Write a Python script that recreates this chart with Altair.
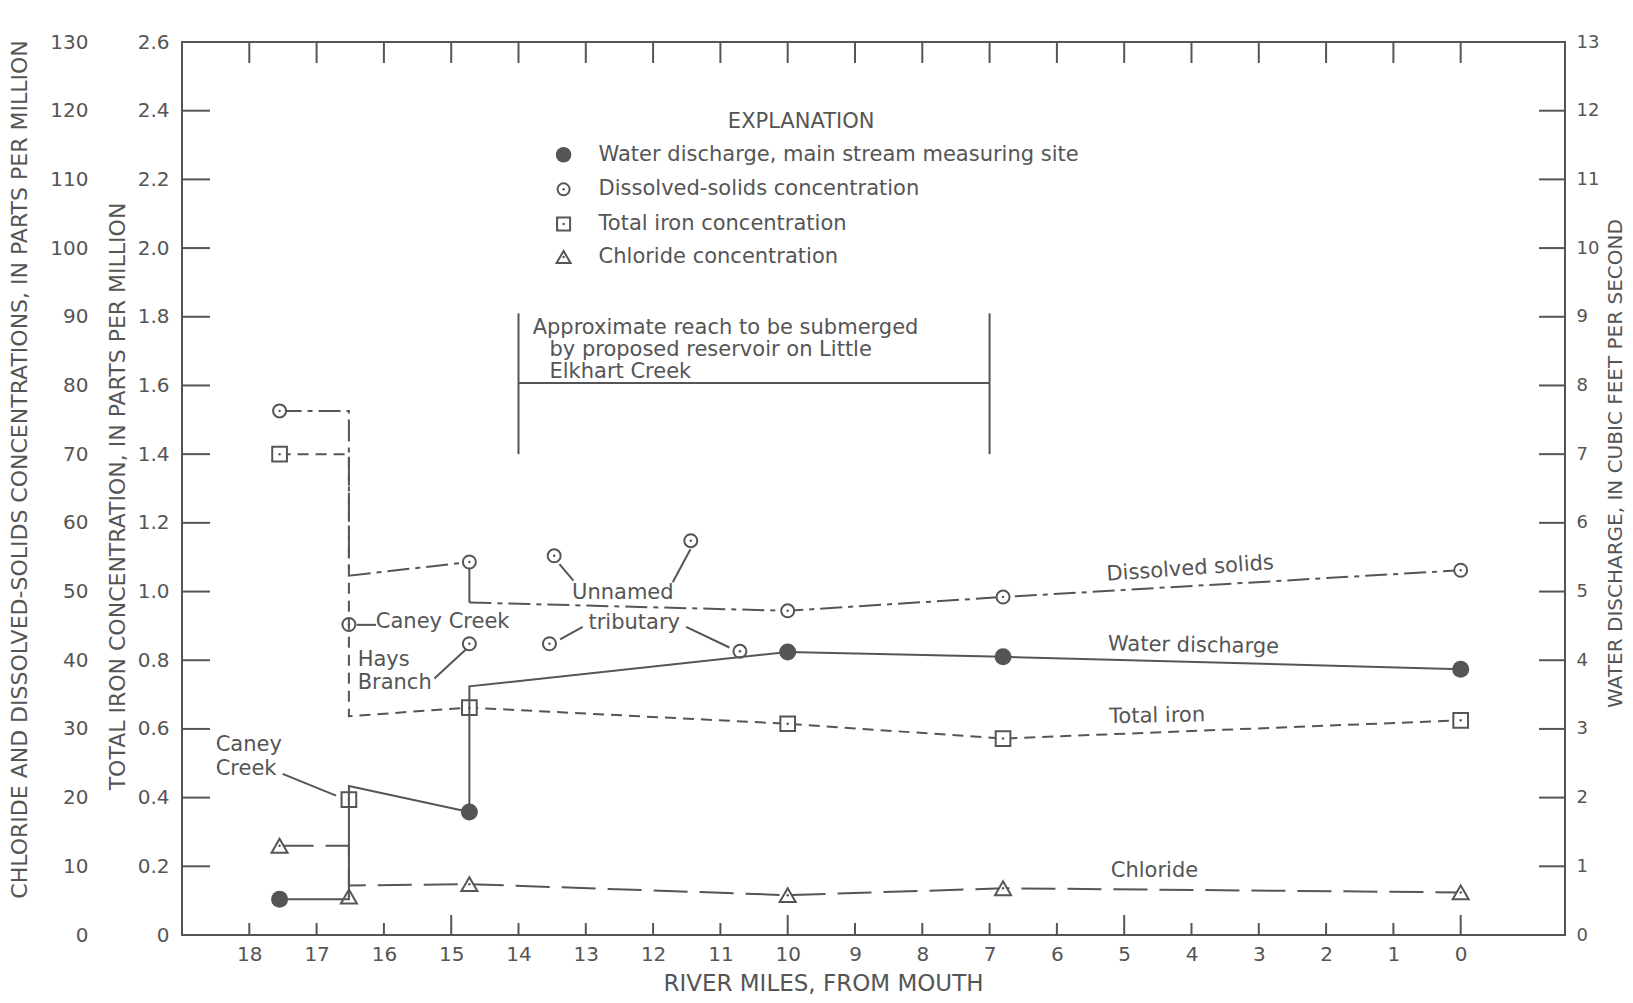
import altair as alt
import pandas as pd

INK = "#555555"
FONT = "DejaVu Sans"

# ---------------- data ----------------
# Water discharge (cfs) along the main stream, with steps at confluences
wd_miles = [17.55, 16.52, 16.52, 14.73, 14.73, 10.0, 6.8, 0.0]
wd_cfs = [0.52, 0.52, 2.17, 1.79, 3.62, 4.12, 4.05, 3.87]
wd_site_miles = [17.55, 14.73, 10.0, 6.8, 0.0]
wd_site_cfs = [0.52, 1.79, 4.12, 4.05, 3.87]

# Dissolved solids (ppm)
ds_miles = [17.55, 16.52, 16.52, 14.73, 14.73, 10.0, 6.8, 0.0]
ds_ppm = [76.3, 76.3, 52.3, 54.3, 48.4, 47.2, 49.2, 53.1]
ds_styles = ["dashdot", "dashdot", "dashdot", "solid", "dashdot", "dashdot", "dashdot"]
ds_site_miles = [17.55, 14.73, 10.0, 6.8, 0.0]
ds_site_ppm = [76.3, 54.3, 47.2, 49.2, 53.1]
ds_trib_miles = [16.52, 14.73, 13.47, 11.44, 13.54, 10.71]
ds_trib_ppm = [45.2, 42.4, 55.2, 57.4, 42.4, 41.3]

# Total iron (ppm)
fe_miles = [17.55, 16.52, 16.52, 14.73, 10.0, 6.8, 0.0]
fe_ppm = [1.40, 1.40, 0.637, 0.662, 0.615, 0.572, 0.625]
fe_site_miles = [17.55, 14.73, 10.0, 6.8, 0.0]
fe_site_ppm = [1.40, 0.662, 0.615, 0.572, 0.625]
fe_trib_miles = [16.52]
fe_trib_ppm = [0.394]

# Chloride (ppm)
cl_miles = [17.55, 16.52, 16.52, 14.73, 10.0, 6.8, 0.0]
cl_ppm = [13.0, 13.0, 7.2, 7.4, 5.8, 6.8, 6.2]
cl_site_miles = [17.55, 14.73, 10.0, 6.8, 0.0]
cl_site_ppm = [13.0, 7.4, 5.8, 6.8, 6.2]
cl_trib_miles = [16.52]
cl_trib_ppm = [5.6]

# Axis ticks
mile_ticks = list(range(0, 19))
ppm_ticks = list(range(0, 131, 10))
fe_ticks = [round(0.2 * k, 1) for k in range(14)]
q_ticks = list(range(0, 14))

# Reach to be submerged (river miles)
reach_from, reach_to = 14.0, 7.0

legend_items = [
    "Water discharge, main stream measuring site",
    "Dissolved-solids concentration",
    "Total iron concentration",
    "Chloride concentration",
]

# ---------------- annotation placement (mile, iron-scale units) ----------------
W, H = 1383, 893
ANN_CENTER = [
    ("Dissolved solids", 4.02, 1.066, 356),
    ("Water discharge", 3.97, 0.842, 1),
    ("Total iron", 4.51, 0.637, 359),
    ("Chloride", 4.55, 0.185, 0),
    ("Unnamed", 12.45, 0.995, 0),
    ("tributary", 12.28, 0.908, 0),
    ("EXPLANATION", 9.80, 2.368, 0),
]
ANN_LEFT = [
    ("Hays", 16.39, 0.800),
    ("Branch", 16.39, 0.733),
    ("Caney Creek", 16.12, 0.910),
    ("Caney", 18.50, 0.552),
    ("Creek", 18.50, 0.482),
    ("Approximate reach to be submerged", 13.79, 1.768),
    ("by proposed reservoir on Little", 13.54, 1.703),
    ("Elkhart Creek", 13.54, 1.638),
]
LEG_SYM_X, LEG_TXT_X = 13.33, 12.81
LEG_ROWS = [2.272, 2.171, 2.070, 1.974]
LEADERS = [  # x1, y1, x2, y2
    (17.505, 0.469, 16.711, 0.406),
    (16.405, 0.903, 16.117, 0.903),
    (15.25, 0.747, 14.779, 0.832),
    (13.392, 1.080, 13.184, 1.032),
    (11.708, 1.027, 11.445, 1.123),
    (13.382, 0.861, 13.046, 0.897),
    (11.509, 0.897, 10.866, 0.837),
    (reach_from, 1.40, reach_from, 1.81),
    (reach_to, 1.40, reach_to, 1.81),
    (reach_from, 1.607, reach_to, 1.607),
]

# ---------------- scales and axes ----------------
xscale = alt.Scale(domain=[-1.55, 19], reverse=True, nice=False, zero=False)
lab = dict(labelFont=FONT, labelFontSize=20, labelColor=INK, domain=False, ticks=False,
           tickSize=0, grid=False)
tit = dict(titleFont=FONT, titleFontSize=22, titleFontWeight="normal", titleColor=INK,
           titleAlign="center", titleBaseline="middle")
x_axis = alt.Axis(values=mile_ticks, format="d", labelPadding=9, labelBaseline="top",
                  title="RIVER MILES, FROM MOUTH", titleX=641, titleY=48,
                  **lab, **{**tit, "titleFontSize": 23})
ppm_axis = alt.Axis(orient="left", offset=90, values=ppm_ticks, format="d", labelPadding=4,
                    title="CHLORIDE AND DISSOLVED-SOLIDS CONCENTRATIONS, IN PARTS PER MILLION",
                    titleAngle=270, titleX=-73, titleY=427, **lab, **tit)
fe_axis = alt.Axis(orient="left", offset=0, values=fe_ticks, labelPadding=13,
                   labelExpr="datum.value == 0 ? '0' : format(datum.value, '.1f')",
                   title="TOTAL IRON CONCENTRATION, IN PARTS PER MILLION",
                   titleAngle=270, titleX=-65, titleY=454, **lab, **tit)
q_axis = alt.Axis(orient="right", offset=0, values=q_ticks, format="d", labelPadding=11,
                  title="WATER DISCHARGE, IN CUBIC FEET PER SECOND",
                  titleAngle=270, titleX=50, titleY=421,
                  **{**lab, "labelFontSize": 18},
                  **{**tit, "titleFontSize": 20})

ppm_scale = alt.Scale(domain=[0, 130], nice=False)
fe_scale = alt.Scale(domain=[0, 2.6], nice=False)
q_scale = alt.Scale(domain=[0, 13], nice=False)


def X(f="mile"):
    return alt.X(f"{f}:Q", scale=xscale, axis=x_axis)


def Yppm(f="val"):
    return alt.Y(f"{f}:Q", scale=ppm_scale, axis=ppm_axis)


def Yfe(f="val"):
    return alt.Y(f"{f}:Q", scale=fe_scale, axis=fe_axis)


def Yq(f="val"):
    return alt.Y(f"{f}:Q", scale=q_scale, axis=q_axis)


def runs(miles, vals, styles):
    out, start = [], 0
    for k in range(1, len(styles) + 1):
        if k == len(styles) or styles[k] != styles[start]:
            for j in range(start, k + 1):
                out.append((miles[j], vals[j], start, styles[start], j))
            start = k
    return pd.DataFrame(out, columns=["mile", "val", "seg", "style", "i"])


def pts(miles, vals):
    return pd.DataFrame({"mile": miles, "val": vals})


def line(df, Y, dash=None):
    kw = dict(color=INK, strokeWidth=2, strokeCap="butt", strokeJoin="miter")
    if dash:
        kw["strokeDash"] = dash
    return alt.Chart(df).mark_line(**kw).encode(x=X(), y=Y(), detail="seg:N", order="i:Q")


def markers(df, kind, Y, size):
    base = alt.Chart(df).encode(x=X(), y=Y())
    if kind == "filled":
        return base.mark_point(shape="circle", filled=True, size=size, color=INK, opacity=1)
    shape = {"circle": "circle", "square": "square", "triangle": "triangle-up"}[kind]
    ring = base.mark_point(shape=shape, size=size, fill="white", fillOpacity=1,
                           stroke=INK, strokeWidth=2, opacity=1)
    dot = base.mark_point(shape="circle", filled=True, size=6, color=INK, opacity=1)
    return ring + dot


DASHDOT = [22, 6, 5, 6]
IRON_DASH = [11, 7]
CL_DASH = [34, 12]

# ---------------- ppm layer (dissolved solids, chloride) ----------------
ds_df = runs(ds_miles, ds_ppm, ds_styles)
cl_df = runs(cl_miles, cl_ppm, ["d"] * (len(cl_miles) - 1))
ppm_layer = alt.layer(
    line(ds_df[ds_df["style"] == "dashdot"], Yppm, DASHDOT),
    line(ds_df[ds_df["style"] == "solid"], Yppm),
    line(cl_df, Yppm, CL_DASH),
    markers(pts(ds_site_miles, ds_site_ppm), "circle", Yppm, 169),
    markers(pts(ds_trib_miles, ds_trib_ppm), "circle", Yppm, 169),
    markers(pts(cl_site_miles, cl_site_ppm), "triangle", Yppm, 256),
    markers(pts(cl_trib_miles, cl_trib_ppm), "triangle", Yppm, 256),
)

# ---------------- iron layer (plus frame ticks and annotations) ----------------
fe_df = runs(fe_miles, fe_ppm, ["d"] * (len(fe_miles) - 1))
tick_df = pd.DataFrame({"mile": mile_ticks})
tick_df["major"] = tick_df["mile"] % 5 == 0
left_ticks = pd.DataFrame({"val": fe_ticks[1:-1]})
lead_df = pd.DataFrame(LEADERS, columns=["mile", "val", "mile2", "val2"])
cen_df = pd.DataFrame(ANN_CENTER, columns=["text", "mile", "val", "ang"])
left_df = pd.DataFrame(ANN_LEFT + [(t, LEG_TXT_X, y) for t, y in zip(legend_items, LEG_ROWS)],
                       columns=["text", "mile", "val"])
leg_pts = [pts([LEG_SYM_X], [y]) for y in LEG_ROWS]

txt = dict(font=FONT, fontSize=21, color=INK, baseline="middle")
fe_layer = alt.layer(
    line(fe_df, Yfe, IRON_DASH),
    markers(pts(fe_site_miles, fe_site_ppm), "square", Yfe, 216),
    markers(pts(fe_trib_miles, fe_trib_ppm), "square", Yfe, 216),
    # inward frame ticks
    alt.Chart(left_ticks).mark_rule(color=INK, strokeWidth=2).encode(
        y=Yfe(), x=alt.value(0), x2=alt.value(28)),
    alt.Chart(tick_df[~tick_df["major"]]).mark_rule(color=INK, strokeWidth=2).encode(
        x=X(), y=alt.value(H), y2=alt.value(H - 12)),
    alt.Chart(tick_df[tick_df["major"]]).mark_rule(color=INK, strokeWidth=2).encode(
        x=X(), y=alt.value(H), y2=alt.value(H - 20)),
    alt.Chart(tick_df).mark_rule(color=INK, strokeWidth=2).encode(
        x=X(), y=alt.value(0), y2=alt.value(21)),
    # leader lines and reach bracket
    alt.Chart(lead_df).mark_rule(color=INK, strokeWidth=2).encode(
        x=X(), x2=alt.X2("mile2:Q"), y=Yfe(), y2=alt.Y2("val2:Q")),
    # labels
    alt.Chart(cen_df).mark_text(align="center", **txt).encode(
        x=X(), y=Yfe(), text="text:N", angle=alt.Angle("ang:Q", scale=None)),
    alt.Chart(left_df).mark_text(align="left", **txt).encode(x=X(), y=Yfe(), text="text:N"),
    # explanation symbols
    markers(leg_pts[0], "filled", Yfe, 240),
    markers(leg_pts[1], "circle", Yfe, 144),
    markers(leg_pts[2], "square", Yfe, 169),
    markers(leg_pts[3], "triangle", Yfe, 196),
)

# ---------------- discharge layer ----------------
wd_df = runs(wd_miles, wd_cfs, ["d"] * (len(wd_miles) - 1))
right_ticks = pd.DataFrame({"val": q_ticks[1:-1]})
q_layer = alt.layer(
    line(wd_df, Yq),
    markers(pts(wd_site_miles, wd_site_cfs), "filled", Yq, 289),
    alt.Chart(right_ticks).mark_rule(color=INK, strokeWidth=2).encode(
        y=Yq(), x=alt.value(W - 26), x2=alt.value(W)),
)

chart = (
    alt.layer(ppm_layer, fe_layer, q_layer)
    .resolve_scale(y="independent")
    .properties(width=W, height=H, autosize="none",
                padding={"left": 174, "top": 34, "right": 60, "bottom": 60},
                background="white")
    .configure_view(stroke=INK, strokeWidth=2)
)

chart.save("out.html", embed_options={"renderer": "svg", "actions": False})
